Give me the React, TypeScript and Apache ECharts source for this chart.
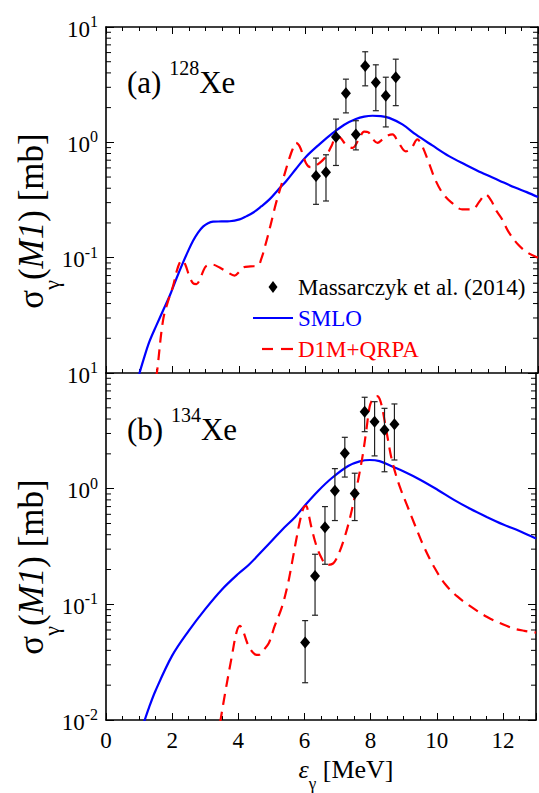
import React, { useEffect, useRef } from 'react';
import * as echarts from 'echarts';

const FONT = 'Liberation Serif, Times New Roman, serif';

// axes
const xMin = 0;
const xMax = 13;
const xStep = 2;
const yMin = 0.01;
const yMax = 10;
const yMinor = [0.02, 0.03, 0.04, 0.05, 0.06, 0.07, 0.08, 0.09, 0.2, 0.3, 0.4, 0.5, 0.6, 0.7, 0.8, 0.9, 2, 3, 4, 5, 6, 7, 8, 9];

// legend names
const nameExp = 'Massarczyk et al. (2014)';
const nameSmlo = 'SMLO';
const nameQrpa = 'D1M+QRPA';

// (a) 128Xe experiment
const expA_E = [6.32, 6.62, 6.92, 7.22, 7.52, 7.8, 8.12, 8.42, 8.72];
const expA_val = [0.51, 0.55, 1.11, 2.67, 1.17, 4.6, 3.3, 2.53, 3.67];
const expA_lo = [0.29, 0.31, 0.63, 1.8, 0.86, 3.09, 1.88, 1.36, 2.08];
const expA_hi = [0.73, 0.78, 1.59, 3.53, 1.54, 6.1, 4.7, 3.67, 5.26];

// (a) SMLO
const smloA_E = [1.0, 1.12, 1.3, 1.52, 1.72, 1.92, 2.12, 2.32, 2.47, 2.62, 2.77, 2.92, 3.07, 3.22, 3.47, 3.72, 4.02, 4.22, 4.42, 4.67, 4.92, 5.17, 5.42, 5.72, 6.02, 6.42, 6.82, 7.17, 7.52, 7.77, 8.02, 8.27, 8.52, 8.92, 9.32, 9.82, 10.32, 10.82, 11.31, 11.81, 12.31, 12.66, 13.0];
const smloA_val = [0.0098, 0.0128, 0.0185, 0.026, 0.035, 0.047, 0.066, 0.091, 0.114, 0.14, 0.165, 0.186, 0.199, 0.205, 0.206, 0.207, 0.215, 0.228, 0.245, 0.278, 0.32, 0.385, 0.46, 0.59, 0.75, 0.96, 1.2, 1.42, 1.59, 1.67, 1.7, 1.69, 1.63, 1.43, 1.17, 0.94, 0.76, 0.64, 0.545, 0.47, 0.405, 0.37, 0.335];

// (a) D1M+QRPA
const qrpaA_E = [1.5, 1.54, 1.72, 1.9, 2.02, 2.12, 2.22, 2.3, 2.4, 2.5, 2.62, 2.72, 2.82, 2.92, 3.02, 3.2, 3.42, 3.65, 3.87, 4.0, 4.12, 4.35, 4.57, 4.67, 4.8, 4.92, 5.02, 5.12, 5.32, 5.5, 5.62, 5.72, 5.8, 5.87, 6.02, 6.15, 6.27, 6.45, 6.62, 6.8, 6.92, 7.05, 7.22, 7.42, 7.6, 7.77, 7.9, 8.05, 8.17, 8.32, 8.5, 8.62, 8.8, 9.02, 9.2, 9.37, 9.5, 9.72, 9.9, 10.12, 10.4, 10.72, 11.02, 11.25, 11.42, 11.6, 11.72, 11.92, 12.1, 12.4, 12.7, 13.0];
const qrpaA_val = [0.009, 0.0105, 0.029, 0.045, 0.057, 0.075, 0.091, 0.095, 0.085, 0.07, 0.06, 0.059, 0.064, 0.076, 0.085, 0.087, 0.082, 0.075, 0.07, 0.075, 0.082, 0.084, 0.085, 0.097, 0.13, 0.176, 0.23, 0.3, 0.47, 0.7, 0.88, 0.99, 0.95, 0.865, 0.66, 0.61, 0.62, 0.67, 0.757, 0.95, 1.13, 1.1, 0.955, 0.895, 1.05, 1.24, 1.22, 1.05, 0.99, 1.06, 1.15, 1.17, 1.0, 0.835, 0.9, 1.06, 0.95, 0.66, 0.48, 0.366, 0.3, 0.262, 0.262, 0.31, 0.353, 0.31, 0.262, 0.215, 0.17, 0.13, 0.11, 0.1];

// (b) 134Xe experiment
const expB_E = [6.02, 6.32, 6.62, 6.92, 7.22, 7.52, 7.82, 8.12, 8.42, 8.72];
const expB_val = [0.0467, 0.176, 0.463, 0.96, 2.02, 0.91, 4.63, 3.79, 3.22, 3.6];
const expB_lo = [0.021, 0.0805, 0.222, 0.53, 1.26, 0.53, 3.11, 1.92, 1.4, 1.77];
const expB_hi = [0.0723, 0.271, 0.7, 1.49, 2.78, 1.36, 6.17, 5.65, 4.95, 5.4];

// (b) SMLO
const smloB_E = [1.15, 1.3, 1.5, 2.0, 2.5, 3.0, 3.5, 4.0, 4.32, 4.82, 5.32, 5.72, 6.02, 6.42, 6.82, 7.32, 7.67, 7.97, 8.27, 8.62, 9.02, 9.51, 10.02, 10.52, 11.01, 11.51, 12.01, 12.5, 13.0];
const smloB_val = [0.0096, 0.0128, 0.018, 0.036, 0.059, 0.091, 0.134, 0.184, 0.22, 0.31, 0.44, 0.57, 0.72, 0.96, 1.23, 1.57, 1.72, 1.77, 1.73, 1.57, 1.4, 1.19, 0.98, 0.8, 0.67, 0.57, 0.49, 0.43, 0.37];

// (b) D1M+QRPA
const qrpaB_E = [3.45, 3.6, 3.8, 3.95, 4.05, 4.15, 4.32, 4.5, 4.62, 4.75, 4.92, 5.1, 5.32, 5.5, 5.62, 5.75, 5.87, 5.97, 6.05, 6.12, 6.22, 6.37, 6.52, 6.67, 6.87, 7.05, 7.22, 7.37, 7.52, 7.65, 7.77, 7.87, 7.97, 8.05, 8.12, 8.2, 8.27, 8.35, 8.42, 8.52, 8.62, 8.77, 8.92, 9.1, 9.32, 9.6, 9.92, 10.25, 10.62, 11.0, 11.51, 11.9, 12.31, 12.65, 13.0];
const qrpaB_val = [0.0095, 0.017, 0.035, 0.058, 0.065, 0.058, 0.043, 0.037, 0.0365, 0.04, 0.046, 0.065, 0.095, 0.15, 0.226, 0.36, 0.536, 0.68, 0.71, 0.61, 0.45, 0.315, 0.25, 0.219, 0.226, 0.28, 0.385, 0.55, 0.85, 1.3, 2.02, 3.2, 5.1, 5.9, 6.2, 6.3, 6.0, 5.0, 3.9, 2.7, 1.89, 1.3, 0.97, 0.72, 0.5, 0.32, 0.21, 0.15, 0.117, 0.097, 0.078, 0.069, 0.062, 0.059, 0.057];

const zip = (a: number[], b: number[]) => a.map((v, i) => [v, b[i]]);
const zip3 = (a: number[], b: number[], c: number[]) => a.map((v, i) => [v, b[i], c[i]]);

const BLUE = '#0000ff';
const RED = '#ff0000';
const DASH = [11, 7];

const tickRich = {
  b: { fontSize: 23, fontFamily: FONT, color: '#000', verticalAlign: 'bottom' },
  s: { fontSize: 16, fontFamily: FONT, color: '#000', verticalAlign: 'top', padding: [0, 0, 11, 0] },
};

const makeXAxis = (gridIndex: number, position: string, showLabel: boolean) => ({
  type: 'value',
  gridIndex,
  position,
  min: xMin,
  max: xMax,
  interval: xStep,
  axisLine: { show: true, onZero: false, lineStyle: { color: '#000', width: 1.6 } },
  axisTick: { show: true, inside: true, length: 7, lineStyle: { color: '#000', width: 1 } },
  minorTick: { show: true, splitNumber: 4, length: 4, lineStyle: { color: '#000', width: 1 } },
  splitLine: { show: false },
  axisLabel: {
    show: showLabel,
    margin: 9,
    fontSize: 23,
    fontFamily: FONT,
    color: '#000',
    formatter: (v: number) => (Math.abs(v % xStep) < 1e-9 ? String(v) : ''),
  },
});

const makeYAxis = (gridIndex: number, position: string, showLabel: boolean, hideMin: boolean) => ({
  type: 'log',
  logBase: 10,
  gridIndex,
  position,
  min: yMin,
  max: yMax,
  axisLine: { show: true, onZero: false, lineStyle: { color: '#000', width: 1.6 } },
  axisTick: { show: true, inside: true, length: 8, lineStyle: { color: '#000', width: 1 } },
  splitLine: { show: false },
  axisLabel: {
    show: showLabel,
    margin: 8,
    formatter: (v: number) => {
      const e = Math.round(Math.log10(v));
      if (hideMin && e === -2) return '';
      return `{b|10}{s|${e}}`;
    },
    rich: tickRich,
  },
});

const minorTickSeries = (xi: number, yi: number) => ({
  type: 'custom',
  xAxisIndex: xi,
  yAxisIndex: yi,
  silent: true,
  data: yMinor.map((v) => [xMin, v]),
  encode: { x: 0, y: 1 },
  renderItem: (params: any, api: any) => {
    const v = api.value(1);
    const l = api.coord([xMin, v]);
    const r = api.coord([xMax, v]);
    const st = { stroke: '#000', lineWidth: 1 };
    return {
      type: 'group',
      children: [
        { type: 'line', shape: { x1: l[0], y1: l[1], x2: l[0] + 5, y2: l[1] }, style: st },
        { type: 'line', shape: { x1: r[0] - 5, y1: r[1], x2: r[0], y2: r[1] }, style: st },
      ],
    };
  },
});

const errorSeries = (xi: number, yi: number, data: number[][]) => ({
  type: 'custom',
  xAxisIndex: xi,
  yAxisIndex: yi,
  silent: true,
  z: 3,
  data,
  encode: { x: 0, y: [1, 2] },
  renderItem: (params: any, api: any) => {
    const x = api.value(0);
    const p1 = api.coord([x, api.value(2)]);
    const p2 = api.coord([x, api.value(1)]);
    const st = { stroke: '#222', lineWidth: 1.2 };
    const w = 3;
    return {
      type: 'group',
      children: [
        { type: 'line', shape: { x1: p1[0], y1: p1[1], x2: p2[0], y2: p2[1] }, style: st },
        { type: 'line', shape: { x1: p1[0] - w, y1: p1[1], x2: p1[0] + w, y2: p1[1] }, style: st },
        { type: 'line', shape: { x1: p2[0] - w, y1: p2[1], x2: p2[0] + w, y2: p2[1] }, style: st },
      ],
    };
  },
});

const lineSeries = (name: string, xi: number, yi: number, data: number[][], color: string, dashed: boolean) => ({
  type: 'line',
  name,
  xAxisIndex: xi,
  yAxisIndex: yi,
  data,
  smooth: 0.35,
  symbol: 'none',
  showSymbol: false,
  clip: true,
  z: 2,
  lineStyle: { color, width: 2.2, type: dashed ? DASH : 'solid' },
  itemStyle: { color },
});

const scatterSeries = (xi: number, yi: number, data: number[][]) => ({
  type: 'scatter',
  name: nameExp,
  xAxisIndex: xi,
  yAxisIndex: yi,
  data,
  symbol: 'diamond',
  symbolSize: [10, 12],
  z: 4,
  itemStyle: { color: '#000', opacity: 1 },
});

const panelRich = {
  n: { fontSize: 31, fontFamily: FONT, verticalAlign: 'bottom' },
  s: { fontSize: 20, fontFamily: FONT, verticalAlign: 'top', padding: [0, 0, 20, 0] },
};

const yTitleRich = {
  n: { fontSize: 35, fontFamily: FONT, verticalAlign: 'top' },
  i: { fontSize: 35, fontFamily: FONT, fontStyle: 'italic', verticalAlign: 'top' },
  sub: { fontSize: 22, fontFamily: FONT, verticalAlign: 'bottom', padding: [26, 0, 0, 0] },
};

const xTitleRich = {
  n: { fontSize: 26, fontFamily: FONT, verticalAlign: 'top' },
  i: { fontSize: 26, fontFamily: FONT, fontStyle: 'italic', verticalAlign: 'top' },
  sub: { fontSize: 17, fontFamily: FONT, verticalAlign: 'bottom', padding: [19, 0, 0, 0] },
};

const legendFont = { fontSize: 23, fontFamily: FONT };
const legendX = 253;
const legendRows = [287, 318, 349];

const option: any = {
  animation: false,
  backgroundColor: '#fff',
  textStyle: { fontFamily: FONT },
  grid: [
    { left: 106, top: 27, width: 432, height: 346 },
    { left: 106, top: 373, width: 432, height: 347 },
  ],
  xAxis: [
    makeXAxis(0, 'bottom', false),
    makeXAxis(0, 'top', false),
    makeXAxis(1, 'bottom', true),
  ],
  yAxis: [
    makeYAxis(0, 'left', true, true),
    makeYAxis(0, 'right', false, false),
    makeYAxis(1, 'left', true, false),
    makeYAxis(1, 'right', false, false),
  ],
  series: [
    minorTickSeries(0, 0),
    minorTickSeries(2, 2),
    lineSeries(nameSmlo, 0, 0, zip(smloA_E, smloA_val), BLUE, false),
    lineSeries(nameQrpa, 0, 0, zip(qrpaA_E, qrpaA_val), RED, true),
    errorSeries(0, 0, zip3(expA_E, expA_lo, expA_hi)),
    scatterSeries(0, 0, zip(expA_E, expA_val)),
    lineSeries(nameSmlo, 2, 2, zip(smloB_E, smloB_val), BLUE, false),
    lineSeries(nameQrpa, 2, 2, zip(qrpaB_E, qrpaB_val), RED, true),
    errorSeries(2, 2, zip3(expB_E, expB_lo, expB_hi)),
    scatterSeries(2, 2, zip(expB_E, expB_val)),
  ],
  graphic: [
    // legend
    {
      type: 'polygon',
      shape: { points: [[legendX + 20, legendRows[0] - 6], [legendX + 24.5, legendRows[0]], [legendX + 20, legendRows[0] + 6], [legendX + 15.5, legendRows[0]]] },
      style: { fill: '#000' },
    },
    { type: 'text', x: legendX + 45, y: legendRows[0], style: { text: nameExp, ...legendFont, fill: '#000', verticalAlign: 'middle' } },
    {
      type: 'line',
      shape: { x1: legendX, y1: legendRows[1], x2: legendX + 40, y2: legendRows[1] },
      style: { stroke: BLUE, lineWidth: 2.2 },
    },
    { type: 'text', x: legendX + 45, y: legendRows[1], style: { text: nameSmlo, ...legendFont, fill: BLUE, verticalAlign: 'middle' } },
    {
      type: 'line',
      shape: { x1: legendX + 9, y1: legendRows[2], x2: legendX + 20, y2: legendRows[2] },
      style: { stroke: RED, lineWidth: 2.2 },
    },
    {
      type: 'line',
      shape: { x1: legendX + 28, y1: legendRows[2], x2: legendX + 40, y2: legendRows[2] },
      style: { stroke: RED, lineWidth: 2.2 },
    },
    { type: 'text', x: legendX + 45, y: legendRows[2], style: { text: nameQrpa, ...legendFont, fill: RED, verticalAlign: 'middle' } },
    // panel labels
    {
      type: 'text',
      x: 127,
      y: 58,
      style: { text: '{n|(a) }{s|128}{n|Xe}', rich: panelRich, fill: '#000', align: 'left', verticalAlign: 'top' },
    },
    {
      type: 'text',
      x: 127,
      y: 405,
      style: { text: '{n|(b) }{s|134}{n|Xe}', rich: panelRich, fill: '#000', align: 'left', verticalAlign: 'top' },
    },
    // axis titles
    {
      type: 'text',
      x: 38,
      y: 221,
      rotation: Math.PI / 2,
      style: { text: '{n|σ}{sub|γ}{n|(}{i|M1}{n|) [mb]}', rich: yTitleRich, fill: '#000', align: 'center', verticalAlign: 'middle' },
    },
    {
      type: 'text',
      x: 38,
      y: 567,
      rotation: Math.PI / 2,
      style: { text: '{n|σ}{sub|γ}{n|(}{i|M1}{n|) [mb]}', rich: yTitleRich, fill: '#000', align: 'center', verticalAlign: 'middle' },
    },
    {
      type: 'text',
      x: 346,
      y: 756,
      style: { text: '{i|ε}{sub|γ}{n| [MeV]}', rich: xTitleRich, fill: '#000', align: 'center', verticalAlign: 'top' },
    },
  ],
};

export default function App() {
  const ref = useRef<HTMLDivElement>(null);
  useEffect(() => {
    const chart = echarts.init(ref.current as HTMLDivElement, null, { renderer: 'svg' });
    chart.setOption(option);
    return () => chart.dispose();
  }, []);
  return (
    <div
      ref={ref}
      style={{ position: 'absolute', left: 0, top: 0, width: 539, height: 793, overflow: 'hidden', background: '#fff' }}
    />
  );
}
